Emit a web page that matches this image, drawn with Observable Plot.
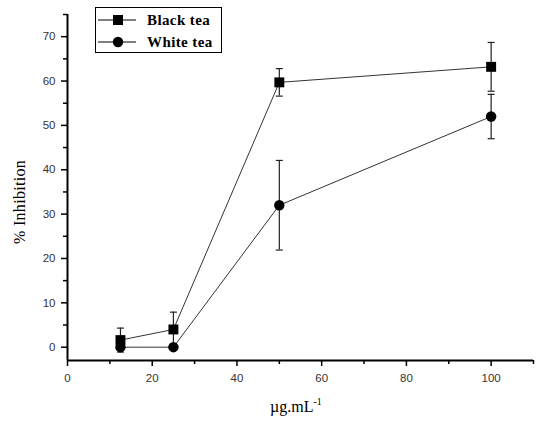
<!DOCTYPE html>
<html>
<head>
<meta charset="utf-8">
<script src="https://cdn.jsdelivr.net/npm/d3@7"></script>
<script src="https://cdn.jsdelivr.net/npm/@observablehq/plot@0.6"></script>
<style>
  body { margin: 0; background: #fff; }
  #wrap { position: relative; width: 538px; height: 423px; }
  #legend { position: absolute; left: 95px; top: 7px; width: 125px; height: 44px; border: 1px solid #000; background: #fff; font-family: "Liberation Serif", serif; font-weight: bold; font-size: 15px; }
  .row { position: absolute; left: 0; height: 20px; display: flex; align-items: center; }
  .row svg { margin-left: 1px; }
  .row span { margin-left: 10px; letter-spacing: 0.4px; }
  #xlabel { position: absolute; left: 270px; top: 396px; font-family: "Liberation Serif", serif; font-size: 16px; }
  #xlabel sup { font-size: 10px; vertical-align: 7px; }
  #ylabel { position: absolute; left: 20px; top: 202px; width: 0; height: 0; }
  #ylabel div { position: absolute; transform: translate(-50%, -50%) rotate(-90deg); white-space: nowrap; font-family: "Liberation Serif", serif; font-size: 16px; letter-spacing: 0.3px; }
</style>
</head>
<body>
<div id="wrap">
  <div id="chart"></div>
  <div id="legend"></div>
  <div id="xlabel">µg.mL<sup>-1</sup></div>
  <div id="ylabel"><div>% Inhibition</div></div>
</div>
<script>
const concentrations = [12.5, 25, 50, 100];
const blackTea = [1.6, 4.0, 59.7, 63.2];
const blackTeaErr = [2.7, 3.9, 3.1, 5.5];
const whiteTea = [0, 0, 32, 52];
const whiteTeaErr = [0, 0, 10.1, 5.0];
const seriesNames = ["Black tea", "White tea"];
const xTicks = [0, 20, 40, 60, 80, 100];
const xMinorTicks = [10, 30, 50, 70, 90, 110];
const yTicks = [0, 10, 20, 30, 40, 50, 60, 70];
const yMinorTicks = [5, 15, 25, 35, 45, 55, 65, 75];

const rows = [];
concentrations.forEach((c, i) => {
  rows.push({series: seriesNames[0], x: c, y: blackTea[i], e: blackTeaErr[i]});
  rows.push({series: seriesNames[1], x: c, y: whiteTea[i], e: whiteTeaErr[i]});
});
const withErr = rows.filter(d => d.e > 0);
const black = rows.filter(d => d.series === seriesNames[0]);
const white = rows.filter(d => d.series === seriesNames[1]);

const capSymbol = { draw(ctx, size) { const w = 3.5; ctx.moveTo(-w, 0); ctx.lineTo(w, 0); } };

const chart = Plot.plot({
  width: 538,
  height: 423,
  marginLeft: 67,
  marginRight: 5,
  marginTop: 14,
  marginBottom: 63,
  style: { background: "#fff" },
  x: { domain: [0, 110] },
  y: { domain: [-3, 75] },
  marks: [
    Plot.axisX({ ticks: xTicks, tickSize: 6, tickPadding: 7, tickFormat: d => d, label: null,
      fontFamily: "Liberation Sans, Arial, sans-serif", fontSize: 11.5, fill: "#333", strokeWidth: 1.5, stroke: "#000", letterSpacing: "1.2px" }),
    Plot.axisX({ ticks: xMinorTicks, tickSize: 4, text: null, label: null, strokeWidth: 1.5, stroke: "#000" }),
    Plot.axisY({ ticks: yTicks, tickSize: 6, tickPadding: 6, tickFormat: d => d, label: null,
      fontFamily: "Liberation Sans, Arial, sans-serif", fontSize: 11.5, fill: "#333", strokeWidth: 1.5, stroke: "#000", letterSpacing: "1.2px" }),
    Plot.axisY({ ticks: yMinorTicks, tickSize: 4, text: null, label: null, strokeWidth: 1.5, stroke: "#000" }),
    Plot.ruleY([-3], { stroke: "#000", strokeWidth: 2 }),
    Plot.ruleX([0], { stroke: "#000", strokeWidth: 2 }),
    Plot.ruleX(withErr, { x: "x", y1: d => d.y - d.e, y2: d => d.y + d.e, stroke: "#222", strokeWidth: 1.2 }),
    Plot.dot(withErr, { x: "x", y: d => d.y + d.e, symbol: capSymbol, stroke: "#222", strokeWidth: 1.2, r: 3 }),
    Plot.dot(withErr, { x: "x", y: d => d.y - d.e, symbol: capSymbol, stroke: "#222", strokeWidth: 1.2, r: 3 }),
    Plot.line(black, { x: "x", y: "y", stroke: "#333", strokeWidth: 1 }),
    Plot.line(white, { x: "x", y: "y", stroke: "#333", strokeWidth: 1 }),
    Plot.dot(black, { x: "x", y: "y", symbol: "square", r: 5.6, fill: "#000", stroke: "none" }),
    Plot.dot(white, { x: "x", y: "y", symbol: "circle", r: 5.2, fill: "#000", stroke: "none" })
  ]
});
document.getElementById("chart").append(chart);

const legend = document.getElementById("legend");
seriesNames.forEach((name, i) => {
  const row = document.createElement("div");
  row.className = "row";
  row.style.top = (i === 0 ? 2 : 24) + "px";
  const marker = i === 0
    ? '<rect x="16" y="5" width="10" height="10" fill="#000"/>'
    : '<circle cx="21" cy="10" r="5.2" fill="#000"/>';
  row.innerHTML = `<svg width="40" height="20"><line x1="1" x2="39" y1="10" y2="10" stroke="#000" stroke-width="1"/>${marker}</svg><span>${name}</span>`;
  legend.append(row);
});
</script>
</body>
</html>
